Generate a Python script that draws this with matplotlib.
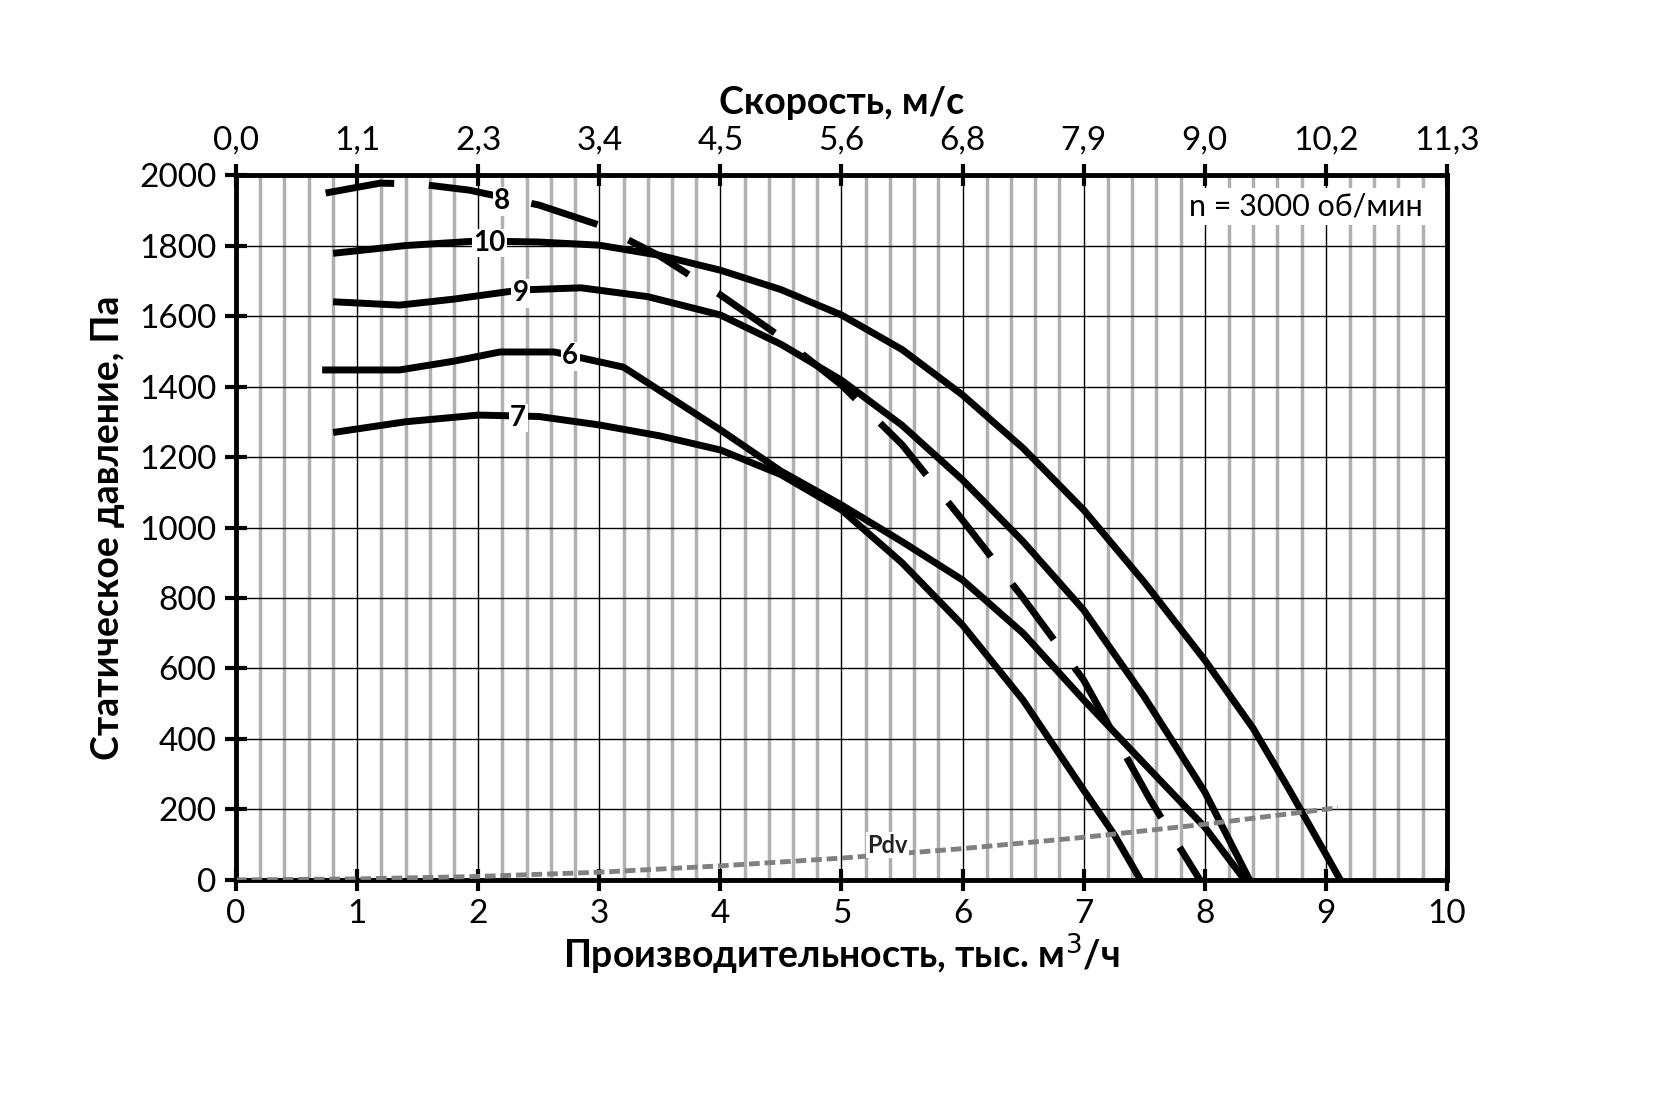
import matplotlib.pyplot as plt

plt.rcParams['font.family'] = ['Lato', 'DejaVu Sans']

# кривые вентилятора (x — тыс. м3/ч, y — Па)
x10 = [0.83, 1.4, 2.0, 2.5, 3.0, 3.5, 4.0, 4.5, 5.0, 5.5, 6.0, 6.5, 7.0, 7.5, 8.0, 8.4, 8.7, 9.12]
y10 = [1779, 1800, 1813, 1810, 1801, 1772, 1730, 1675, 1603, 1505, 1376, 1225, 1050, 845, 624, 430, 255, 0]
x9 = [0.83, 1.35, 1.8, 2.35, 2.85, 3.4, 4.0, 4.5, 5.0, 5.5, 6.0, 6.5, 7.0, 7.5, 8.0, 8.37]
y9 = [1640, 1631, 1648, 1674, 1680, 1655, 1603, 1520, 1418, 1290, 1135, 960, 766, 520, 250, 0]
x6 = [0.74, 1.35, 1.8, 2.18, 2.63, 3.2, 4.0, 4.5, 5.0, 5.5, 6.0, 6.5, 7.0, 7.55, 8.0, 8.33]
y6 = [1447, 1447, 1472, 1498, 1498, 1455, 1277, 1160, 1064, 960, 851, 700, 511, 312, 150, 0]
x7 = [0.83, 1.4, 2.0, 2.5, 3.0, 3.5, 4.0, 4.5, 5.0, 5.5, 6.0, 6.5, 7.0, 7.25, 7.47]
y7 = [1271, 1300, 1319, 1315, 1291, 1260, 1220, 1150, 1050, 900, 723, 510, 255, 130, 0]
x8 = [0.74, 1.19, 1.5, 1.93, 2.5, 3.0, 3.5, 4.0, 4.5, 5.0, 5.5, 6.0, 6.5, 7.0, 7.55, 7.96]
y8 = [1949, 1977, 1975, 1957, 1915, 1858, 1770, 1660, 1540, 1404, 1235, 1021, 800, 567, 227, 0]
x_pdv = [0, 1, 2, 3, 4, 5, 6, 7, 8, 9.1]
y_pdv = [0, 3, 10, 22, 40, 62, 89, 121, 158, 205]

speed_labels = ['0,0', '1,1', '2,3', '3,4', '4,5', '5,6', '6,8', '7,9', '9,0', '10,2', '11,3']

# подписи кривых: (текст, x, y)
curve_labels = [('8', 2.2, 1926), ('10', 2.09, 1807), ('9', 2.35, 1665),
                ('6', 2.76, 1486), ('7', 2.33, 1311)]

fig = plt.figure(figsize=(16.54, 11.03), dpi=100)
ax = fig.add_axes([0.1427, 0.2022, 0.7321, 0.6391])

# сетка
for i in range(50):
    v = i * 0.2
    if i % 5 == 0:
        ax.axvline(v, color='black', lw=1, zorder=1)
    else:
        ax.axvline(v, color='#b0b0b0', lw=2.5, zorder=1)
for yv in range(200, 2000, 200):
    ax.axhline(yv, color='black', lw=1, zorder=1)

lw = 5
ax.plot(x10, y10, color='black', lw=lw, zorder=3)
ax.plot(x9, y9, color='black', lw=lw, zorder=3)
ax.plot(x6, y6, color='black', lw=lw, zorder=3)
ax.plot(x7, y7, color='black', lw=lw, zorder=3)
ax.plot(x8, y8, color='black', lw=lw, dashes=(10, 5), zorder=3)
ax.plot(x_pdv, y_pdv, color='#808080', lw=3.5, dashes=(2.2, 1), zorder=3)

for txt, xx, yy in curve_labels:
    ax.text(xx, yy, txt, fontsize=20, fontweight='bold', ha='center', va='center', zorder=4,
            bbox=dict(facecolor='white', edgecolor='none', pad=1))
ax.text(5.38, 99, 'Pdv', fontsize=17, fontweight='bold', ha='center', va='center', zorder=4,
        color='#222222', bbox=dict(facecolor='white', edgecolor='none', pad=1))
ax.text(9.8, 1910, 'n = 3000 об/мин', fontsize=22, ha='right', va='center', zorder=4,
        bbox=dict(facecolor='white', edgecolor='none', pad=3))

ax.set_xlim(0, 10)
ax.set_ylim(0, 2000)
ax.set_xticks(range(11))
ax.set_yticks(range(0, 2001, 200))
ax.tick_params(direction='inout', length=16, width=3, labelsize=24, pad=6)
for s in ax.spines.values():
    s.set_linewidth(3.5)
ax.set_xlabel('Производительность, тыс. м$^3$/ч', fontsize=27, fontweight='bold', labelpad=2)
ax.set_ylabel('Статическое давление, Па', fontsize=27, fontweight='bold', labelpad=10)

ax2 = ax.twiny()
ax2.set_xlim(0, 10)
ax2.set_xticks(range(11))
ax2.set_xticklabels(speed_labels)
ax2.tick_params(direction='inout', length=16, width=3, labelsize=24, pad=6)
ax2.set_xlabel('Скорость, м/с', fontsize=27, fontweight='bold', labelpad=8)

plt.savefig('out.png', dpi=100)
